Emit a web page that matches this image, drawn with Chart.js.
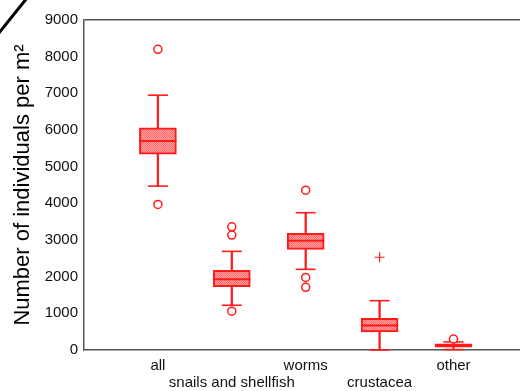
<!DOCTYPE html>
<html>
<head>
<meta charset="utf-8">
<script src="https://cdn.jsdelivr.net/npm/chart.js@4"></script>
<style>
  html, body { margin: 0; padding: 0; background: #fff; overflow: hidden; }
  #wrap { width: 520px; height: 391px; }
</style>
</head>
<body>
<div id="wrap"><canvas id="boxChart" width="520" height="391"></canvas></div>
<script>
// box plot: density of individuals per group
const categories = ["all", "snails and shellfish", "worms", "crustacea", "other"];
const whiskerLow = [4470, 1220, 2200, 0, 10];
const q1 = [5340, 1730, 2745, 490, 80];
const median = [5700, 1930, 2980, 670, 120];
const q3 = [6060, 2170, 3180, 865, 170];
const whiskerHigh = [6950, 2690, 3745, 1345, 220];
const outliers = [[8200, 3970], [3360, 3135, 1060], [4360, 1980, 1710], [], [300]];
const extremes = [[], [], [], [2530], []];
const yTicks = [0, 1000, 2000, 3000, 4000, 5000, 6000, 7000, 8000, 9000];

const RED = "#ff1a1a";
const FONT = "'Liberation Sans', Arial, sans-serif";

// hatched pink fill like the original
function makeHatch() {
  const pc = document.createElement("canvas");
  pc.width = 2; pc.height = 2;
  const c = pc.getContext("2d");
  c.fillStyle = "#ffa3a3";
  c.fillRect(0, 0, 2, 2);
  c.fillStyle = "#ff6767";
  c.fillRect(0, 0, 1, 1);
  c.fillRect(1, 1, 1, 1);
  return c.createPattern(pc, "repeat");
}

const pos = categories.map((_, i) => i + 1);
const boxData = pos.map((x, i) => ({ x, y: [q1[i], q3[i]] }));
const whiskerData = pos.map((x, i) => ({ x, y: [whiskerLow[i], whiskerHigh[i]] }));
const medianData = pos.map((x, i) => ({ x, y: median[i] }));
const capData = [];
pos.forEach((x, i) => { capData.push({ x, y: whiskerLow[i] }, { x, y: whiskerHigh[i] }); });
const outlierData = [];
outliers.forEach((arr, i) => arr.forEach(v => outlierData.push({ x: i + 1, y: v })));
const extremeData = [];
extremes.forEach((arr, i) => arr.forEach(v => extremeData.push({ x: i + 1, y: v })));

const cornerMark = {
  id: "cornerMark",
  afterDraw(chart) {
    const ctx = chart.ctx;
    ctx.save();
    ctx.strokeStyle = "#000";
    ctx.lineWidth = 3;
    ctx.beginPath();
    ctx.moveTo(-2, 34);
    ctx.lineTo(27, -2);
    ctx.stroke();
    ctx.restore();
  }
};

new Chart(document.getElementById("boxChart"), {
  type: "bar",
  data: {
    datasets: [
      {
        label: "whisker",
        data: whiskerData,
        backgroundColor: RED,
        borderWidth: 0,
        barThickness: 1.6,
        grouped: false,
        order: 4,
        clip: false
      },
      {
        label: "box",
        data: boxData,
        backgroundColor: makeHatch(),
        borderColor: RED,
        borderWidth: 2,
        borderSkipped: false,
        barThickness: 37,
        grouped: false,
        order: 3,
        clip: false
      },
      {
        type: "scatter",
        label: "caps",
        data: capData,
        pointStyle: "line",
        radius: 10,
        borderColor: RED,
        borderWidth: 1.6,
        order: 2,
        clip: false
      },
      {
        type: "scatter",
        label: "median",
        data: medianData,
        pointStyle: "line",
        radius: 18.5,
        borderColor: RED,
        borderWidth: 2,
        order: 1,
        clip: false
      },
      {
        type: "scatter",
        label: "outliers",
        data: outlierData,
        pointStyle: "circle",
        radius: 4,
        backgroundColor: "#fff",
        borderColor: RED,
        borderWidth: 1.5,
        order: 0,
        clip: false
      },
      {
        type: "scatter",
        label: "extremes",
        data: extremeData,
        pointStyle: "cross",
        radius: 5,
        borderColor: RED,
        borderWidth: 1.2,
        order: 0,
        clip: false
      }
    ]
  },
  options: {
    responsive: false,
    animation: false,
    layout: { autoPadding: false, padding: { top: 20, right: 0, left: 0, bottom: 0 } },
    plugins: { legend: { display: false }, tooltip: { enabled: false } },
    scales: {
      x: {
        type: "linear",
        min: 0,
        max: 5.9,
        offset: false,
        afterBuildTicks: s => { s.ticks = pos.map(v => ({ value: v })); },
        afterFit: s => { s.height = 41; s.paddingRight = 0; },
        ticks: {
          autoSkip: false,
          maxRotation: 0,
          padding: 7,
          color: "#111",
          font: { family: FONT, size: 15, lineHeight: 1.13 },
          callback: v => {
            const i = v - 1;
            return i % 2 === 1 ? ["", categories[i]] : categories[i];
          }
        },
        grid: { display: false, drawTicks: false, offset: false },
        border: { color: "#555", width: 1.5 }
      },
      y: {
        min: 0,
        max: 9000,
        afterBuildTicks: s => { s.ticks = yTicks.map(v => ({ value: v })); },
        afterFit: s => { s.width = 84; },
        ticks: {
          padding: 6,
          color: "#111",
          font: { family: FONT, size: 15 },
          callback: v => String(v)
        },
        grid: {
          drawTicks: false,
          color: c => (c.tick && c.tick.value === 9000 ? "#555" : "rgba(0,0,0,0)"),
          lineWidth: 1.5
        },
        border: { color: "#555", width: 1.5 },
        title: {
          display: true,
          text: "Number of individuals per m²",
          color: "#000",
          font: { family: FONT, size: 22 },
          padding: { top: 10, bottom: 0 }
        }
      }
    }
  },
  plugins: [cornerMark]
});
</script>
</body>
</html>
